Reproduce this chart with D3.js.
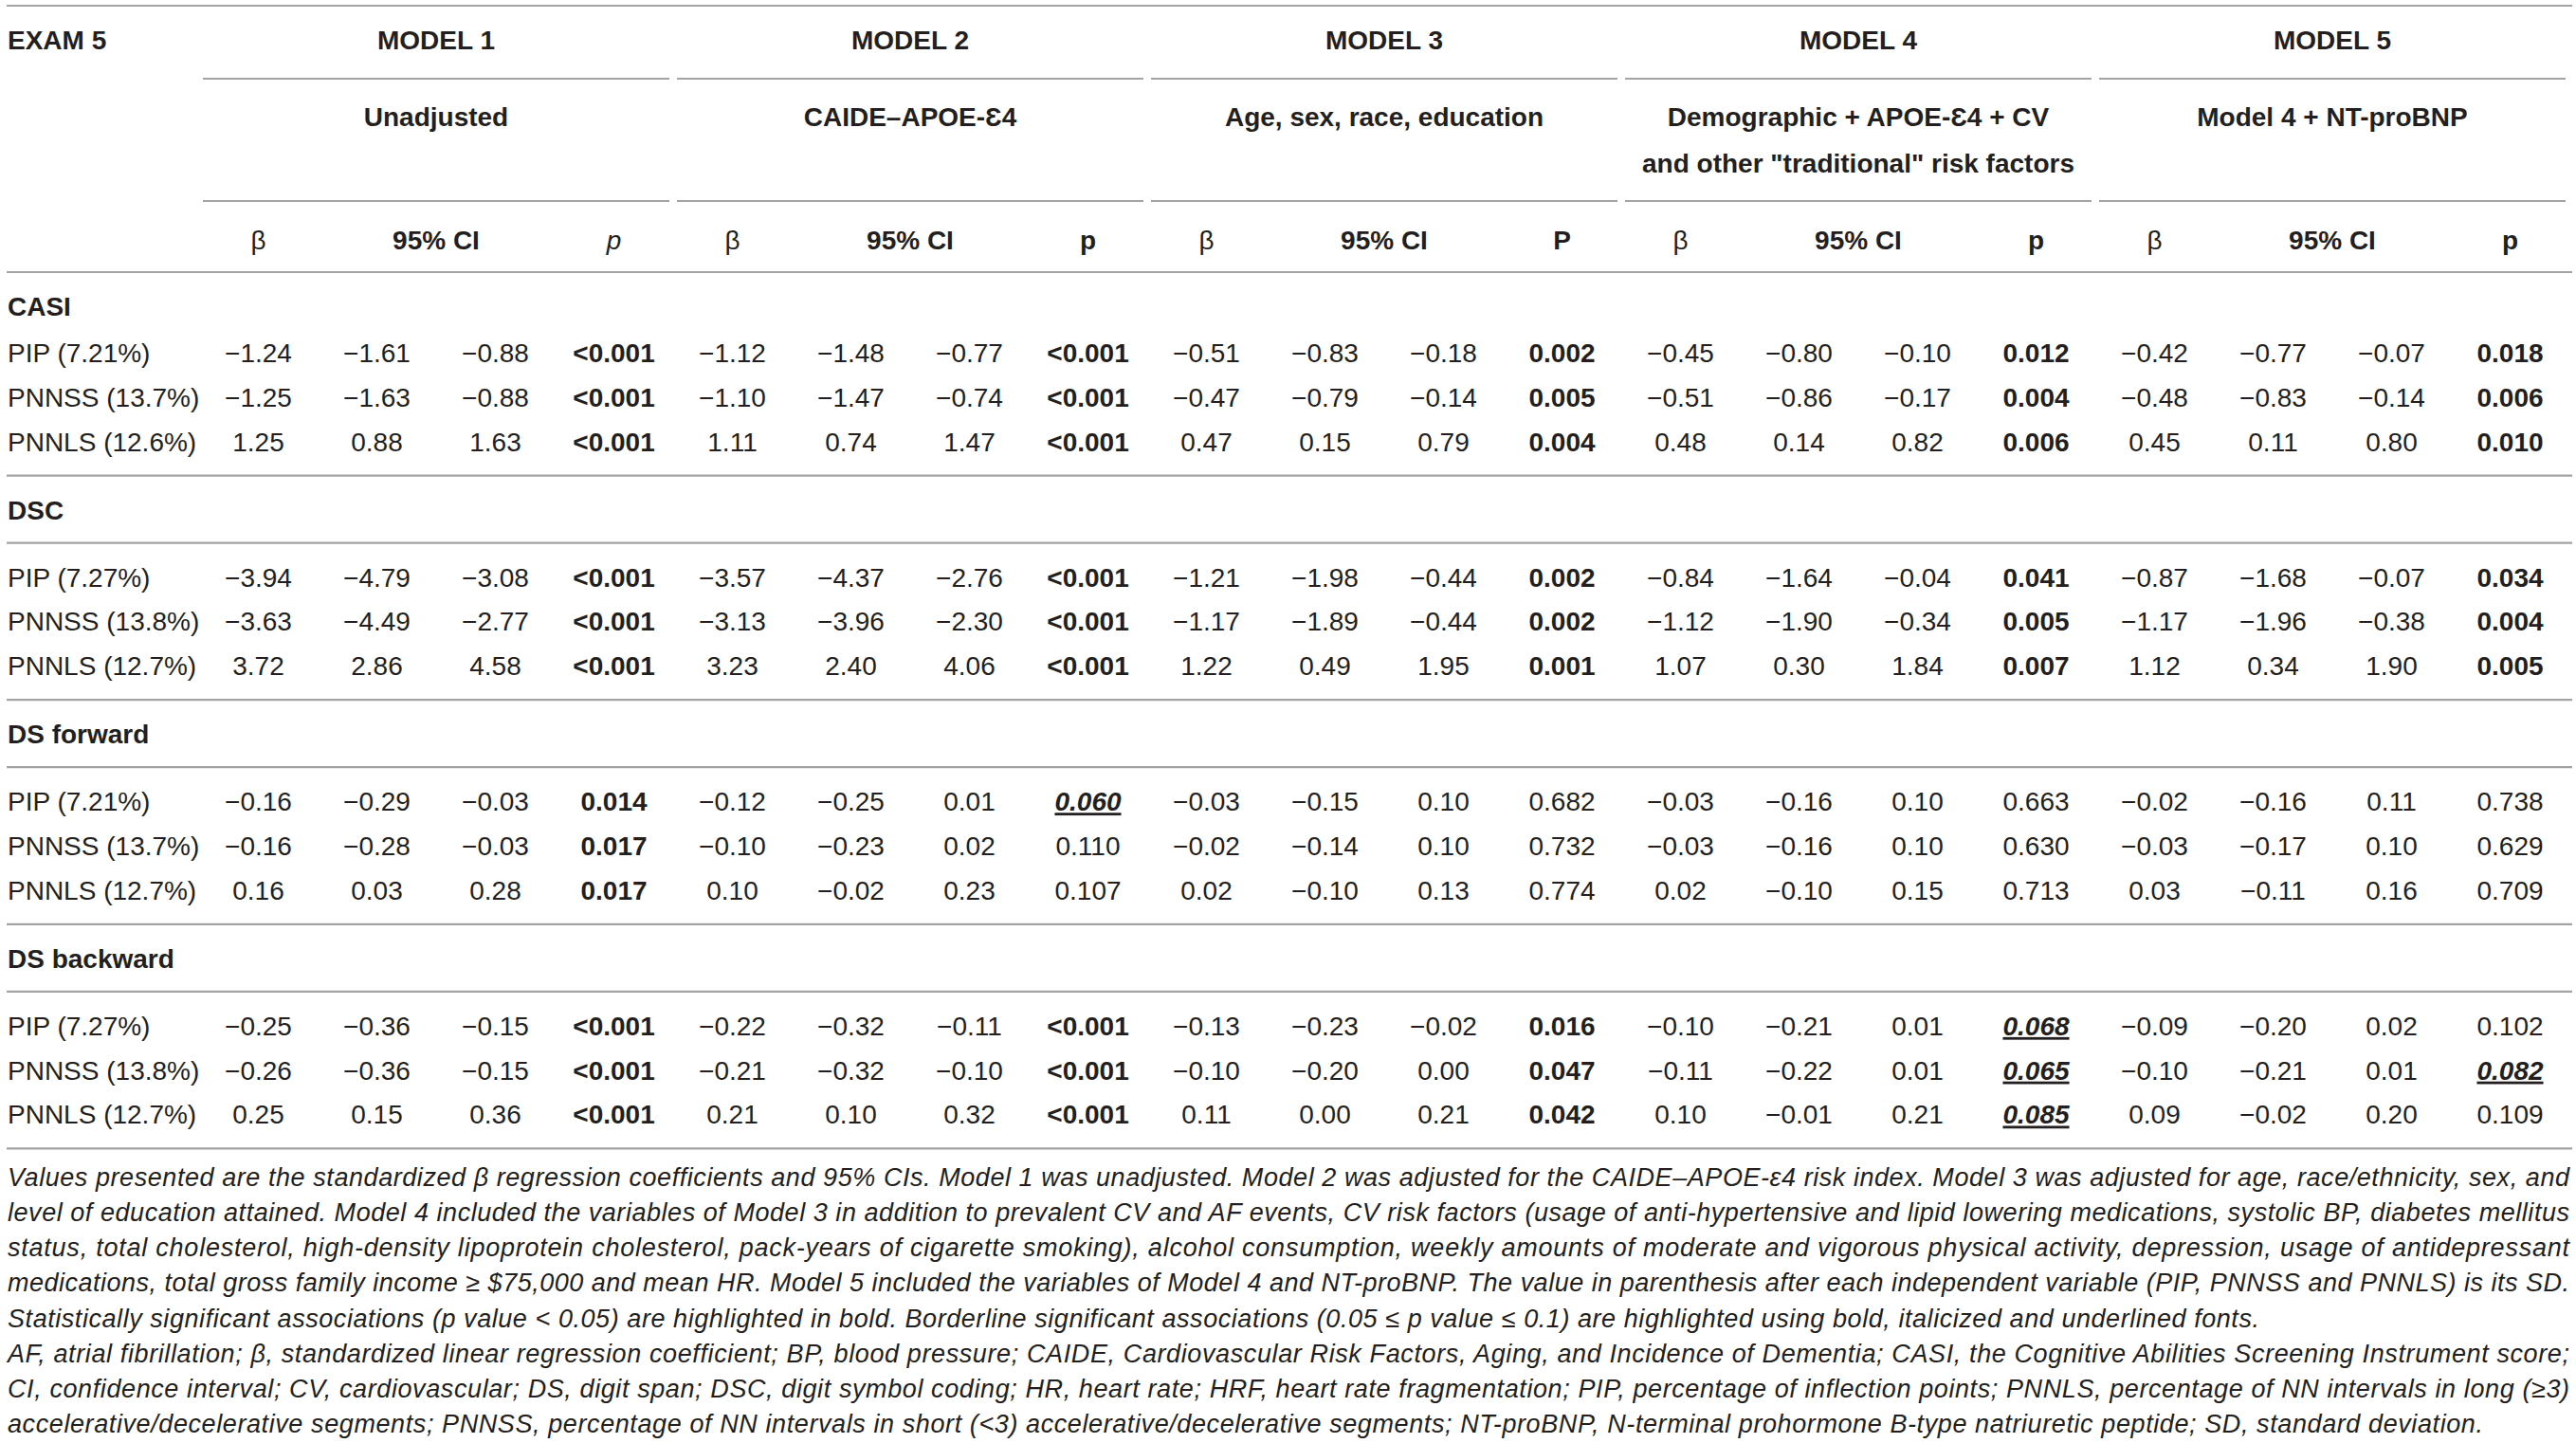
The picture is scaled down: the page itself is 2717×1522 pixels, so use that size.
<!DOCTYPE html>
<html>
<head>
<meta charset="utf-8">
<script src="https://cdn.jsdelivr.net/npm/d3@7"></script>
<style>
  html, body { margin: 0; padding: 0; background: #fff; }
  svg { display: block; }
  text { font-family: "Liberation Sans", Arial, Helvetica, sans-serif; fill: #231f20; }
</style>
</head>
<body>
<svg id="chart"></svg>
<script>
// ---------------- DATA ----------------
const examLabel = "EXAM 5";
const models = ["MODEL 1", "MODEL 2", "MODEL 3", "MODEL 4", "MODEL 5"];
const adjustments = [
  ["Unadjusted"],
  ["CAIDE–APOE-Ɛ4"],
  ["Age, sex, race, education"],
  ["Demographic + APOE-Ɛ4 + CV", "and other \"traditional\" risk factors"],
  ["Model 4 + NT-proBNP"]
];
const betaLabel = "β";
const ciLabel = "95% CI";
const pLabels = ["p", "p", "P", "p", "p"];
const pLabelItalic = [true, false, false, false, false];

const outcomes = ["CASI", "DSC", "DS forward", "DS backward"];
const predictors = [
  ["PIP (7.21%)", "PNNSS (13.7%)", "PNNLS (12.6%)"],
  ["PIP (7.27%)", "PNNSS (13.8%)", "PNNLS (12.7%)"],
  ["PIP (7.21%)", "PNNSS (13.7%)", "PNNLS (12.7%)"],
  ["PIP (7.27%)", "PNNSS (13.8%)", "PNNLS (12.7%)"]
];

// 12 rows each: CASI x3, DSC x3, DS forward x3, DS backward x3
const model1Beta = [-1.24, -1.25, 1.25, -3.94, -3.63, 3.72, -0.16, -0.16, 0.16, -0.25, -0.26, 0.25];
const model1Lo   = [-1.61, -1.63, 0.88, -4.79, -4.49, 2.86, -0.29, -0.28, 0.03, -0.36, -0.36, 0.15];
const model1Hi   = [-0.88, -0.88, 1.63, -3.08, -2.77, 4.58, -0.03, -0.03, 0.28, -0.15, -0.15, 0.36];
const model1P    = ["<0.001", "<0.001", "<0.001", "<0.001", "<0.001", "<0.001", "0.014", "0.017", "0.017", "<0.001", "<0.001", "<0.001"];

const model2Beta = [-1.12, -1.10, 1.11, -3.57, -3.13, 3.23, -0.12, -0.10, 0.10, -0.22, -0.21, 0.21];
const model2Lo   = [-1.48, -1.47, 0.74, -4.37, -3.96, 2.40, -0.25, -0.23, -0.02, -0.32, -0.32, 0.10];
const model2Hi   = [-0.77, -0.74, 1.47, -2.76, -2.30, 4.06, 0.01, 0.02, 0.23, -0.11, -0.10, 0.32];
const model2P    = ["<0.001", "<0.001", "<0.001", "<0.001", "<0.001", "<0.001", "0.060", "0.110", "0.107", "<0.001", "<0.001", "<0.001"];

const model3Beta = [-0.51, -0.47, 0.47, -1.21, -1.17, 1.22, -0.03, -0.02, 0.02, -0.13, -0.10, 0.11];
const model3Lo   = [-0.83, -0.79, 0.15, -1.98, -1.89, 0.49, -0.15, -0.14, -0.10, -0.23, -0.20, 0.00];
const model3Hi   = [-0.18, -0.14, 0.79, -0.44, -0.44, 1.95, 0.10, 0.10, 0.13, -0.02, 0.00, 0.21];
const model3P    = ["0.002", "0.005", "0.004", "0.002", "0.002", "0.001", "0.682", "0.732", "0.774", "0.016", "0.047", "0.042"];

const model4Beta = [-0.45, -0.51, 0.48, -0.84, -1.12, 1.07, -0.03, -0.03, 0.02, -0.10, -0.11, 0.10];
const model4Lo   = [-0.80, -0.86, 0.14, -1.64, -1.90, 0.30, -0.16, -0.16, -0.10, -0.21, -0.22, -0.01];
const model4Hi   = [-0.10, -0.17, 0.82, -0.04, -0.34, 1.84, 0.10, 0.10, 0.15, 0.01, 0.01, 0.21];
const model4P    = ["0.012", "0.004", "0.006", "0.041", "0.005", "0.007", "0.663", "0.630", "0.713", "0.068", "0.065", "0.085"];

const model5Beta = [-0.42, -0.48, 0.45, -0.87, -1.17, 1.12, -0.02, -0.03, 0.03, -0.09, -0.10, 0.09];
const model5Lo   = [-0.77, -0.83, 0.11, -1.68, -1.96, 0.34, -0.16, -0.17, -0.11, -0.20, -0.21, -0.02];
const model5Hi   = [-0.07, -0.14, 0.80, -0.07, -0.38, 1.90, 0.11, 0.10, 0.16, 0.02, 0.01, 0.20];
const model5P    = ["0.018", "0.006", "0.010", "0.034", "0.004", "0.005", "0.738", "0.629", "0.709", "0.102", "0.082", "0.109"];

const footnoteLines = [
  "Values presented are the standardized β regression coefficients and 95% CIs. Model 1 was unadjusted. Model 2 was adjusted for the CAIDE–APOE-ε4 risk index. Model 3 was adjusted for age, race/ethnicity, sex, and",
  "level of education attained. Model 4 included the variables of Model 3 in addition to prevalent CV and AF events, CV risk factors (usage of anti-hypertensive and lipid lowering medications, systolic BP, diabetes mellitus",
  "status, total cholesterol, high-density lipoprotein cholesterol, pack-years of cigarette smoking), alcohol consumption, weekly amounts of moderate and vigorous physical activity, depression, usage of antidepressant",
  "medications, total gross family income ≥ $75,000 and mean HR. Model 5 included the variables of Model 4 and NT-proBNP. The value in parenthesis after each independent variable (PIP, PNNSS and PNNLS) is its SD.",
  "Statistically significant associations (p value < 0.05) are highlighted in bold. Borderline significant associations (0.05 ≤ p value ≤ 0.1) are highlighted using bold, italicized and underlined fonts.",
  "AF, atrial fibrillation; β, standardized linear regression coefficient; BP, blood pressure; CAIDE, Cardiovascular Risk Factors, Aging, and Incidence of Dementia; CASI, the Cognitive Abilities Screening Instrument score;",
  "CI, confidence interval; CV, cardiovascular; DS, digit span; DSC, digit symbol coding; HR, heart rate; HRF, heart rate fragmentation; PIP, percentage of inflection points; PNNLS, percentage of NN intervals in long (≥3)",
  "accelerative/decelerative segments; PNNSS, percentage of NN intervals in short (<3) accelerative/decelerative segments; NT-proBNP, N-terminal prohormone B-type natriuretic peptide; SD, standard deviation."
];

// ---------------- LAYOUT ----------------
const W = 2717, H = 1522;
const FS = 28;          // table font size
const FN_FS = 27;       // footnote font size
const lineColor = "#a3a3a3";
const left = 8, right = 2713;
const footRightEnds = [2710, 2710, 2710, 2710, 2383, 2710, 2710, 2619];

const modelData = [
  [model1Beta, model1Lo, model1Hi, model1P],
  [model2Beta, model2Lo, model2Hi, model2P],
  [model3Beta, model3Lo, model3Hi, model3P],
  [model4Beta, model4Lo, model4Hi, model4P],
  [model5Beta, model5Lo, model5Hi, model5P]
];

const svg = d3.select("#chart").attr("width", W).attr("height", H)
  .attr("viewBox", `0 0 ${W} ${H}`);
svg.append("rect").attr("width", W).attr("height", H).attr("fill", "#fff");

const x = d3.scaleLinear().domain([0, 20]).range([210, 2710]);
const fmt = d3.format(".2f");

function hline(y, x1, x2) {
  svg.append("line").attr("x1", x1).attr("x2", x2).attr("y1", y).attr("y2", y)
    .attr("stroke", lineColor).attr("stroke-width", 2.2);
}
function txt(xp, yp, s, opts = {}) {
  const t = svg.append("text").attr("x", xp).attr("y", yp).attr("dy", "0.36em")
    .attr("font-size", opts.size || FS)
    .attr("text-anchor", opts.anchor || "middle")
    .attr("font-weight", opts.bold ? "bold" : "normal")
    .attr("font-style", opts.italic ? "italic" : "normal")
    .text(s);
  if (opts.underline) t.attr("text-decoration", "underline");
  return t;
}

// header
hline(6, left - 1, right);
txt(left, 42, examLabel, { anchor: "start", bold: true });
models.forEach((m, g) => {
  const cx = (x(4 * g) + x(4 * g + 4)) / 2;
  txt(cx, 42, m, { bold: true });
  hline(83, x(4 * g) + 4, x(4 * g + 4) - 4);
  adjustments[g].forEach((s, k) => txt(cx, 123 + k * 49, s, { bold: true }));
  hline(212, x(4 * g) + 4, x(4 * g + 4) - 4);
  txt(x(4 * g + 0.5), 253, betaLabel, {});
  txt(x(4 * g + 2), 253, ciLabel, { bold: true });
  txt(x(4 * g + 3.5), 253, pLabels[g], { bold: !pLabelItalic[g], italic: pLabelItalic[g] });
});
hline(287, left - 1, right);

// body
const rowPitch = 46.8;
let yCursor = 287;
outcomes.forEach((o, si) => {
  const titleY = yCursor + 36;
  txt(left, titleY, o, { anchor: "start", bold: true });
  let firstRow;
  if (si === 0) {
    firstRow = titleY + 49;
  } else {
    const sub = titleY + 35;
    hline(sub, left - 1, right);
    firstRow = sub + 36;
  }
  predictors[si].forEach((pr, ri) => {
    const ry = firstRow + ri * rowPitch;
    const idx = si * 3 + ri;
    txt(left, ry, pr, { anchor: "start" });
    modelData.forEach((md, g) => {
      txt(x(4 * g + 0.5), ry, fmt(md[0][idx]));
      txt(x(4 * g + 1.5), ry, fmt(md[1][idx]));
      txt(x(4 * g + 2.5), ry, fmt(md[2][idx]));
      const ps = md[3][idx];
      const pv = ps.startsWith("<") ? 0 : +ps;
      const sig = pv < 0.05;
      const border = pv >= 0.05 && pv <= 0.1;
      txt(x(4 * g + 3.5), ry, ps, { bold: sig || border, italic: border, underline: border });
    });
  });
  const lastRow = firstRow + 2 * rowPitch;
  yCursor = lastRow + 36;
  hline(yCursor, left - 1, right);
});

// footnote
const fnTop = yCursor + 30;
const fnPitch = 37.1;
footnoteLines.forEach((s, i) => {
  const t = svg.append("text")
    .attr("x", left).attr("y", fnTop + i * fnPitch).attr("dy", "0.36em")
    .attr("font-size", FN_FS).attr("font-style", "italic")
    .text(s);
  const natural = t.node().getComputedTextLength();
  const target = footRightEnds[i] - left;
  t.attr("textLength", target)
   .attr("lengthAdjust", natural > target ? "spacingAndGlyphs" : "spacing");
});
</script>
</body>
</html>
